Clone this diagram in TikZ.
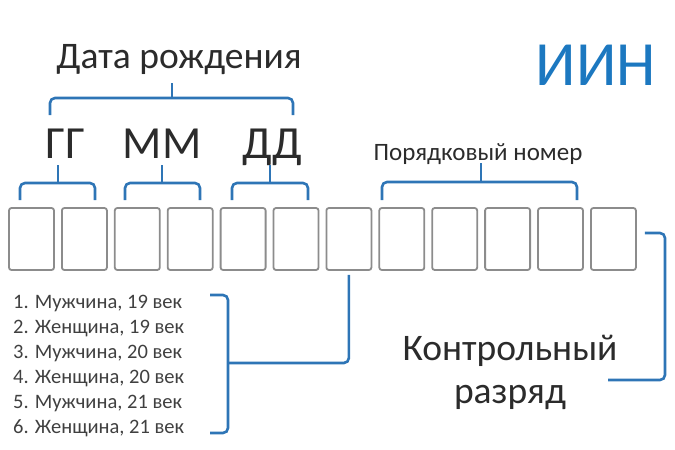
\documentclass[tikz,border=0pt]{standalone}
\usepackage{fontspec}
\setmainfont{Carlito}
\usetikzlibrary{calc}
\definecolor{brblue}{HTML}{2E75B6}
\definecolor{iinblue}{HTML}{1C78C0}
\definecolor{txt}{HTML}{2B2B2B}
\definecolor{boxgray}{HTML}{8C8C8C}
\tikzset{
  digit/.style={draw=boxgray, line width=1.8pt, rounded corners=2.5pt, minimum width=45pt, minimum height=62pt, inner sep=0pt},
  brace/.style={draw=brblue, line width=2.6pt, rounded corners=5pt},
  stem/.style={draw=brblue, line width=2.6pt},
  lbl/.style={anchor=base, text=txt, inner sep=0pt},
}
\begin{document}
\begin{tikzpicture}[x=1pt,y=-1pt]
\useasboundingbox (0,0) rectangle (675,450);
% boxes
\foreach \i in {1,...,12} {
  \node[digit] (b\i) at ({31.5+52.9*(\i-1)},239) {};
}
% titles
\node[lbl, font=\fontsize{37.5}{40}\selectfont] (date) at (179,68) {Дата рождения};
\node[lbl, text=iinblue, font=\fontsize{63}{66}\selectfont] (iin) at (596,85) {ИИН};
\node[lbl, font=\fontsize{46}{50}\selectfont] (yy) at (65,158) {ГГ};
\node[lbl, font=\fontsize{46}{50}\selectfont] (mm) at (162,158) {ММ};
\node[lbl, font=\fontsize{46}{50}\selectfont] (dd) at (272,158) {ДД};
\node[lbl, font=\fontsize{25}{28}\selectfont] (ser) at (478,160) {Порядковый номер};
% date bracket
\path[brace] (50,115) -- (50,98) -- (293,98) -- (293,115);
\path[stem] (172,98) -- (172,83);
% small brackets
\path[brace] (20,200) -- (20,183) -- (95,183) -- (95,200);
\path[stem] (58,183) -- (58,165);
\path[brace] (125,200) -- (125,183) -- (200,183) -- (200,200);
\path[stem] (162,183) -- (162,165);
\path[brace] (232,200) -- (232,183) -- (308,183) -- (308,200);
\path[stem] (270,183) -- (270,165);
\path[brace] (382,200) -- (382,182) -- (577,182) -- (577,200);
\path[stem] (481,182) -- (481,163);
% list
\foreach \t [count=\k from 0] in {1. Мужчина{,} 19 век, 2. Женщина{,} 19 век, 3. Мужчина{,} 20 век, 4. Женщина{,} 20 век, 5. Мужчина{,} 21 век, 6. Женщина{,} 21 век} {
  \node[lbl, anchor=base west, text=txt!90, font=\fontsize{20.5}{22}\selectfont] (l\k) at (13,{308+25*\k}) {\t};
}
\path[brace] (210,295) -- (228,295) -- (228,433) -- (210,433);
\coordinate (lm) at (228,363);
\path[brace] (lm) -- (b7.south |- lm) -- ([yshift=-4pt]b7.south);
% control digit
\node[lbl, font=\fontsize{37.5}{40}\selectfont] (ctl1) at (510,360) {Контрольный};
\node[lbl, font=\fontsize{37.5}{40}\selectfont] (ctl2) at (510,403) {разряд};
\coordinate (c1) at ($(b12.east)+(8,-6)$);
\path[brace] (c1) -- (665,233) -- (665,380) -- (608,380);
\end{tikzpicture}
\end{document}
